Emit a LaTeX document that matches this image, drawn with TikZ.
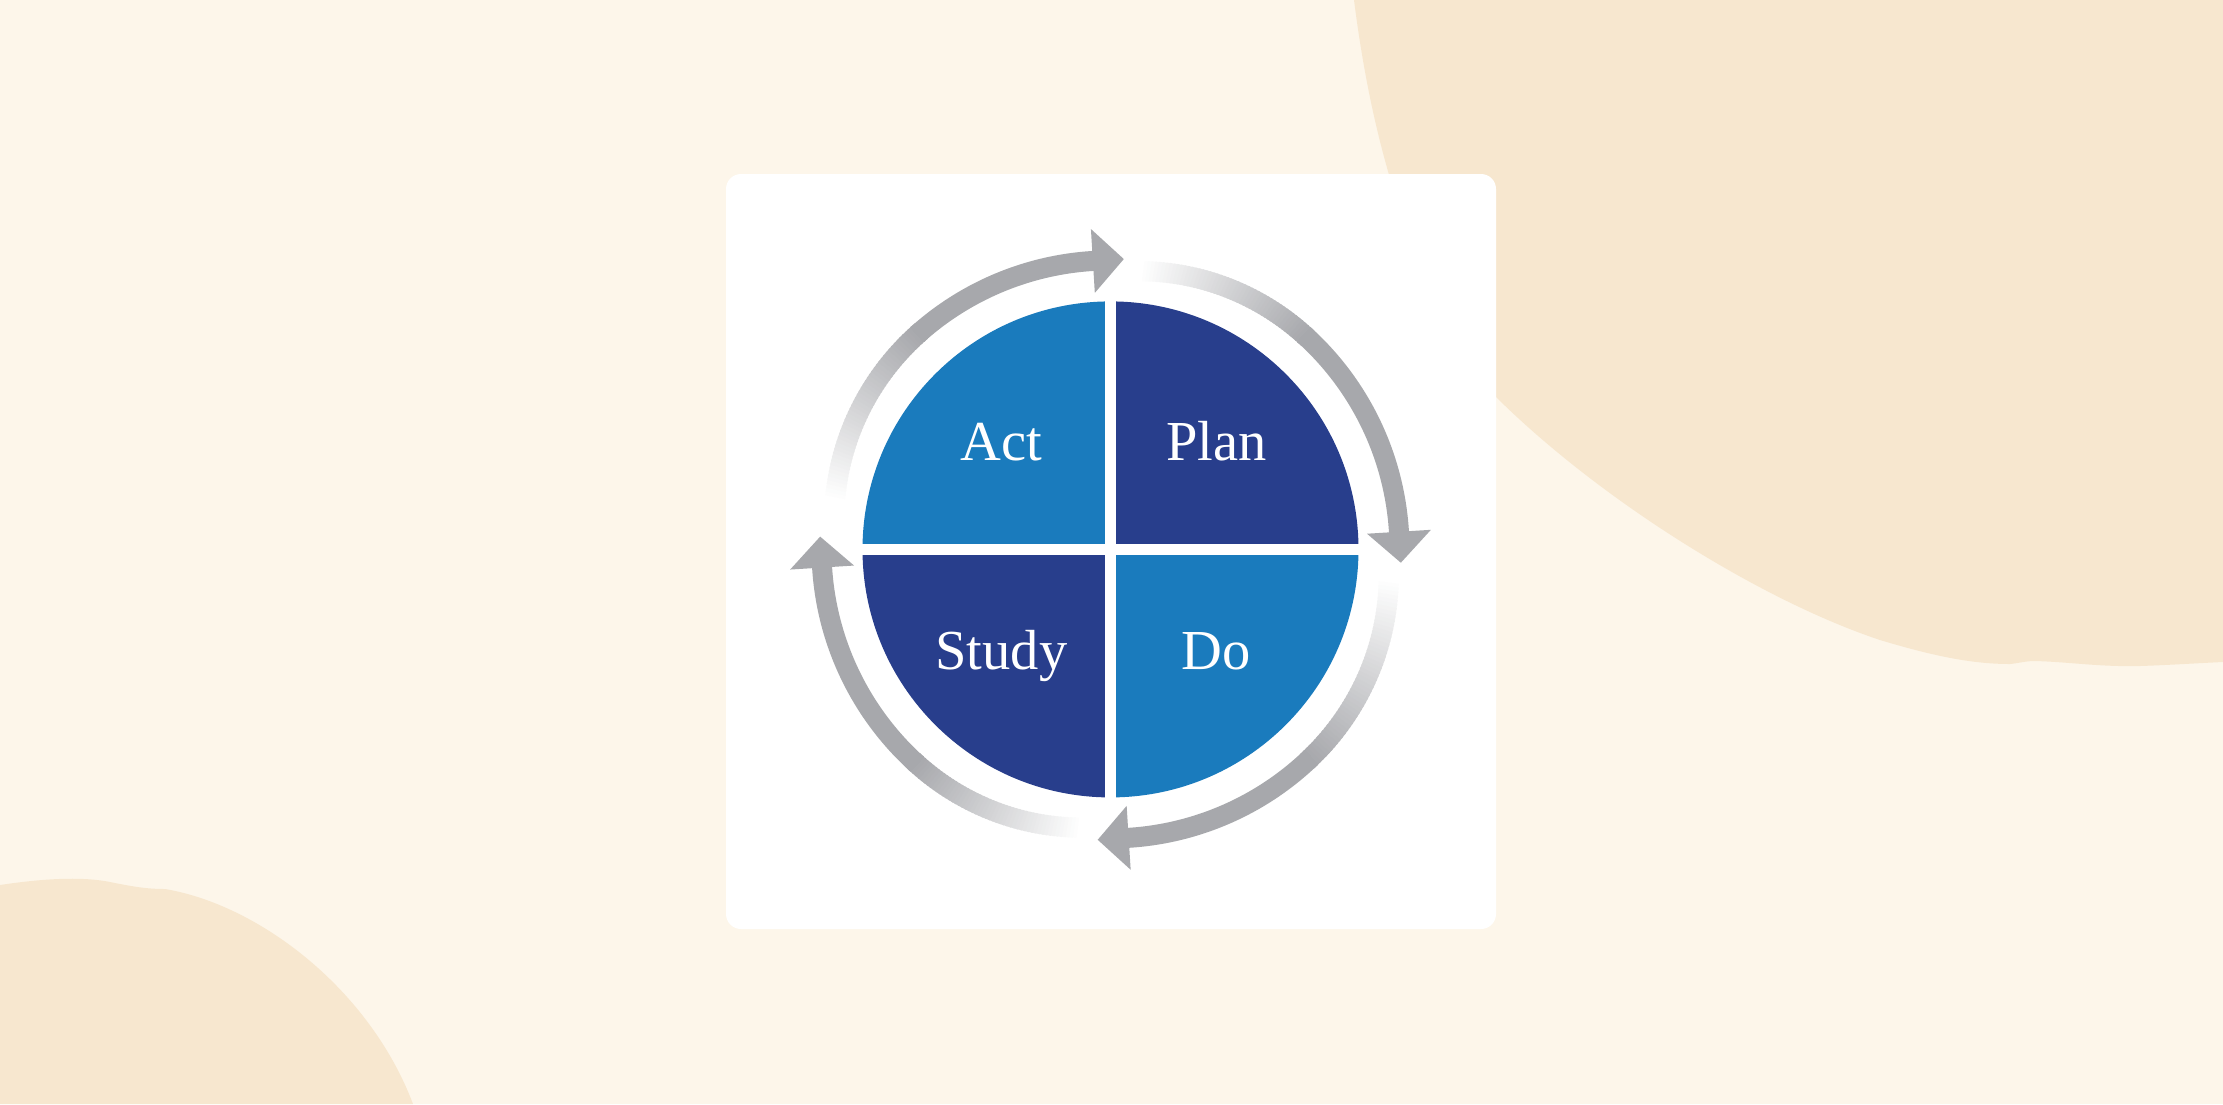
\documentclass[tikz,border=0pt]{standalone}
\usepackage{fontspec}
\setmainfont{Liberation Serif}
\usetikzlibrary{calc}
\definecolor{bgcream}{HTML}{FDF6EA}
\definecolor{blobcol}{HTML}{F7E7CF}
\definecolor{lightblue}{HTML}{1A7BBD}
\definecolor{darkblue}{HTML}{283E8C}
\definecolor{ringgray}{HTML}{A7A8AC}
\newcommand\fadearc[3]{%
  \foreach \k in {0,...,50}{%
    \pgfmathsetmacro\aa{#1+(#2-#1)*\k/50}%
    \pgfmathsetmacro\bb{#1+(#2-#1)*(\k+1.5)/50}%
    \pgfmathsetmacro\pp{100*\k/50}%
    \pgfmathsetmacro\rr{289-9*(1-\k/50)^2}%
    \draw[ringstroke, color=ringgray!\pp!white] ($(c)+(\aa:\rr)$) arc[start angle=\aa, end angle=\bb, radius=\rr];
  }%
  \draw[ringstroke, color=ringgray] ($(c)+(#2:289)$) arc[start angle=#2, end angle=#3+1, radius=289];
}
\newcommand\arrowhead[2]{%
  \fill[ringgray] ($(c)+(#1:289-32)$) coordinate (#2) -- ($(c)+(#1:289+32)$) -- ($(c)+(#1:289)+(#1+90:31)$) -- cycle;
}
\begin{document}
\begin{tikzpicture}[x=1pt,y=-1pt,
  ringstroke/.style={line width=20pt, line cap=butt},
  lbl/.style={text=white, font=\fontsize{56.5}{60}\selectfont, inner sep=0pt, anchor=base}]
\useasboundingbox (0,0) rectangle (2223,1104);
% background
\fill[bgcream] (0,0) rectangle (2223,1104);
\fill[blobcol] (1354,0) .. controls (1368,110) and (1400,270) .. (1496,397)
  .. controls (1600,500) and (1760,600) .. (1880,640)
  .. controls (1930,655) and (1970,664) .. (2010,664)
  .. controls (2020,663) and (2025,661) .. (2035,661)
  .. controls (2070,662) and (2100,667) .. (2140,666)
  .. controls (2170,665) and (2200,663) .. (2223,662)
  -- (2223,0) -- cycle;
\fill[blobcol] (0,885) .. controls (40,879) and (80,876) .. (110,882)
  .. controls (130,886) and (145,889) .. (165,889)
  .. controls (260,905) and (370,990) .. (413,1104) -- (0,1104) -- cycle;
% white card
\fill[white, rounded corners=15pt] (726,174) rectangle (1496,929);
% circle quadrants
\coordinate (c) at (1110.5,549.4);
\fill[darkblue] (c) -- ++(0:248) arc[start angle=0, end angle=-90, radius=248] -- cycle;
\fill[lightblue] (c) -- ++(-90:248) arc[start angle=-90, end angle=-180, radius=248] -- cycle;
\fill[darkblue] (c) -- ++(180:248) arc[start angle=180, end angle=90, radius=248] -- cycle;
\fill[lightblue] (c) -- ++(90:248) arc[start angle=90, end angle=0, radius=248] -- cycle;
\draw[white, line width=11.3pt] ($(c)+(-252,0)$) -- ($(c)+(252,0)$);
\draw[white, line width=11.3pt] ($(c)+(0,-252)$) -- ($(c)+(0,252)$);
% labels
\node[lbl] (act) at (1001.5,460) {Act};
\node[lbl] (plan) at (1216.5,460) {Plan};
\node[lbl] (study) at (1001.5,669.6) {Study};
\node[lbl] (do) at (1216.3,669.6) {Do};
% cycle arrows
\fadearc{-170}{-132}{-93.5}
\fadearc{-84}{-48}{-3.5}
\fadearc{6}{46}{86.4}
\fadearc{96}{132}{176.4}
\arrowhead{-93.5}{h1}
\arrowhead{-3.5}{h2}
\arrowhead{86.4}{h3}
\arrowhead{176.4}{h4}
\end{tikzpicture}
\end{document}
